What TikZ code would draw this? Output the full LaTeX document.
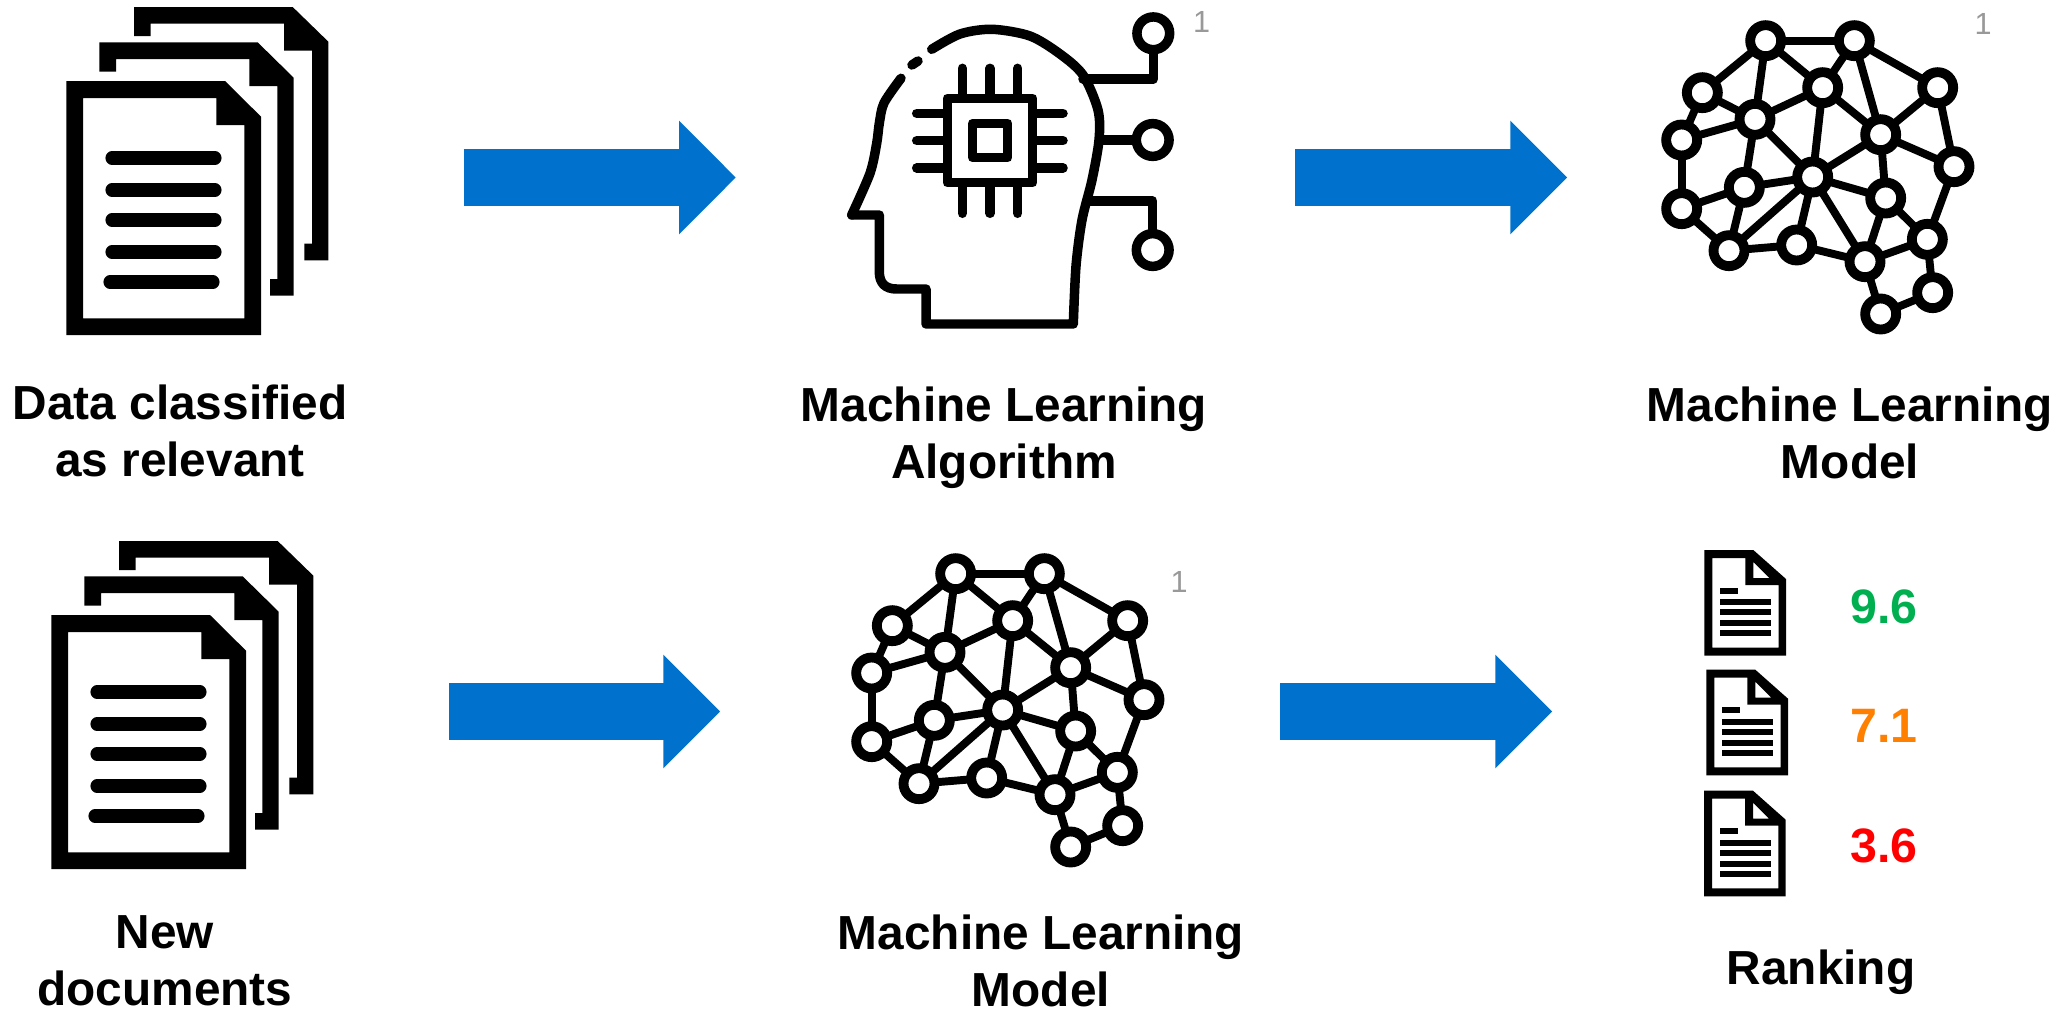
\documentclass[tikz,border=0pt]{standalone}
\usepackage{fontspec}
\setmainfont{Liberation Sans}
\usetikzlibrary{arrows.meta}
\definecolor{arrowblue}{HTML}{0072CE}
\definecolor{scoregreen}{HTML}{00B050}
\definecolor{scoreorange}{HTML}{FF8000}
\definecolor{scorered}{HTML}{FF0000}
\tikzset{
  x=0.02cm, y=-0.02cm,
  bigarrow/.style = {line width=1.14cm, arrowblue, -{Triangle[length=1.134cm, width=2.27cm, line width=1pt]}},
  caption/.style = {align=center, font=\fontsize{27.2pt}{32.7pt}\selectfont\bfseries, inner sep=0pt},
  score/.style = {font=\fontsize{27.5pt}{32pt}\selectfont\bfseries, inner sep=0pt},
  refmark/.style = {gray!80, font=\fontsize{17.4pt}{20pt}\selectfont, inner sep=0pt},
  brainnode/.style = {circle, draw=black, fill=white, line width=5.6pt, minimum size=0.62cm, inner sep=0pt},
  brainedge/.style = {black, line width=4.5pt},
  iconline/.style = {black, line width=5.4pt, line cap=round, line join=round},
  headnode/.style = {circle, draw=black, fill=white, line width=5.4pt, minimum size=0.655cm, inner sep=0pt},
  textline/.style = {black, line width=7.5pt, line cap=round},
  pics/docstack/.style = {code = {
    \fill (402/3,108/3) -- (402/3,21/3) -- (878/3,21/3) -- (985/3,125/3) -- (985/3,781/3) -- (913/3,781/3) -- (913/3,731/3)
      -- (936/3,731/3) -- (936/3,152/3) -- (852/3,152/3) -- (852/3,71/3) -- (452/3,71/3) -- (452/3,108/3) -- cycle;
    \fill (298/3,215/3) -- (298/3,127/3) -- (773/3,127/3) -- (881/3,233/3) -- (881/3,887/3) -- (810/3,887/3) -- (810/3,837/3)
      -- (832/3,837/3) -- (832/3,258/3) -- (748/3,258/3) -- (748/3,177/3) -- (348/3,177/3) -- (348/3,215/3) -- cycle;
    \fill[even odd rule] (199/3,243/3) -- (675/3,243/3) -- (783/3,350/3) -- (783/3,1005/3) -- (199/3,1005/3) -- cycle
      (249/3,294/3) -- (649/3,294/3) -- (649/3,375/3) -- (733/3,375/3) -- (733/3,955/3) -- (249/3,955/3) -- cycle;
    \draw[textline] (112,158) -- (215,158);
    \draw[textline] (112,190) -- (215,190);
    \draw[textline] (112,220) -- (215,220);
    \draw[textline] (112,252) -- (215,252);
    \draw[textline] (110,282) -- (213,282);
  }},
  pics/smalldoc/.style = {code = {
    \fill[even odd rule] (0,0) -- (49,0) -- (81.7,29) -- (81.7,105.7) -- (0,105.7) -- cycle
      (8,8) -- (41,8) -- (41,35) -- (74.3,35) -- (74.3,97.7) -- (8,97.7) -- cycle
      (49,12) -- (65,28) -- (49,28) -- cycle;
    \fill (15.7,37.7) rectangle (33.7,43.7);
    \foreach \liney in {52,62,73,83}
      \fill (15.7,\liney-3) rectangle (66.7,\liney+3);
  }},
  pics/brainicon/.style = {code = {
    \foreach \nodename/\nodex/\nodey in {n1/377/122, n2/643/122, n3/893/263, n4/548/263, n5/187/278,
        n6/345/358, n7/722/404, n8/125/420, n9/942/500, n10/518/531, n11/313/562, n12/737/594,
        n13/125/626, n14/862/718, n15/470/735, n16/267/752, n17/675/785, n18/878/878, n19/722/942}
      \coordinate (-\nodename) at ({\nodex/3},{\nodey/3});
    % edges first, the rings cover their ends
    \foreach \from/\to in {n1/n2, n1/n5, n1/n6, n1/n4, n2/n4, n2/n7, n2/n3, n3/n7, n3/n9, n4/n6, n4/n7,
        n4/n10, n5/n6, n5/n8, n6/n8, n6/n10, n6/n11, n7/n9, n7/n10, n7/n12, n8/n13, n9/n14, n10/n11,
        n10/n12, n10/n15, n10/n16, n10/n17, n11/n13, n11/n16, n12/n14, n12/n17, n13/n16, n14/n17,
        n14/n18, n15/n16, n15/n17, n17/n19, n18/n19}
      \draw[brainedge] (-\from) -- (-\to);
    \foreach \nodename in {n1,n2,n3,n4,n5,n6,n7,n8,n9,n10,n11,n12,n13,n14,n15,n16,n17,n18,n19}
      \node[brainnode] at (-\nodename) {};
  }}
}

\begin{document}
\begin{tikzpicture}
\useasboundingbox (0,0) rectangle (2072,1014);

% top row
\pic (docsTop) at (0,0) {docstack};
\coordinate (arrowOneA) at (463.5,177.5);
\coordinate (arrowOneB) at (735.7,177.5);
\draw[bigarrow] (arrowOneA) -- (arrowOneB);
\node[caption] (captionData) at (180,431) {Data classified\\as relevant};

% head with the chip
\draw[iconline] plot[smooth] coordinates {(931.7,49.3) (960,34) (992,29.3) (1030,36) (1060,54) (1083,75) (1098,110) (1099,140)
    (1092,180) (1082,220) (1076,266) (1073.3,324)}
  -- (926,324) -- (926,289) -- (896.7,289) .. controls (885,289) and (879.3,283) .. (879.3,271.7) -- (879.3,215) -- (851.7,215);
\draw[iconline] plot[smooth] coordinates {(851.7,215) (870,173.3) (876.7,143.3) (879.3,123.3) (884,103) (901,78.3)};
\draw[iconline] (912,65) -- (918,61);
\draw[iconline] (947.3,98.3) rectangle (1032.7,182.7);
\draw[iconline] (972.7,123.3) rectangle (1007.7,157.7);
\foreach \pinx in {962.3,990,1017.7} {
  \draw[iconline] (\pinx,68.3) -- (\pinx,95);
  \draw[iconline] (\pinx,186.7) -- (\pinx,213.3);
}
\foreach \piny in {113.3,140.7,168} {
  \draw[iconline] (916.7,\piny) -- (943,\piny);
  \draw[iconline] (1037,\piny) -- (1063,\piny);
}
\coordinate (startTop) at (1083,79);
\coordinate (startMid) at (1101.7,140);
\coordinate (startBot) at (1090,201);
\node[headnode] (outTop) at (1153.3,33.3) {};
\node[headnode] (outMid) at (1152.7,140) {};
\node[headnode] (outBot) at (1152.7,250) {};
\draw[iconline] (startTop) -| (outTop);
\draw[iconline] (startMid) -- (outMid);
\draw[iconline] (startBot) -| (outBot);
\node[refmark] (markHead) at (1201.5,22) {1};
\node[caption] (captionAlgo) at (1004,438) {Machine Learning\\Algorithm};

\coordinate (arrowTwoA) at (1295,177.5);
\coordinate (arrowTwoB) at (1567,177.5);
\draw[bigarrow] (arrowTwoA) -- (arrowTwoB);

\pic (brainTop) at (1640,0) {brainicon};
\node[refmark] (markBrainTop) at (1983,24) {1};
\node[caption] (captionModelTop) at (1850,433) {Machine Learning\\Model};

% bottom row
\pic (docsBot) at (-15,534) {docstack};
\coordinate (arrowThreeA) at (449,711.5);
\coordinate (arrowThreeB) at (720,711.5);
\draw[bigarrow] (arrowThreeA) -- (arrowThreeB);
\node[caption] (captionNew) at (165,961) {New\\documents};

\pic (brainBot) at (830,533) {brainicon};
\node[refmark] (markBrainBot) at (1179,582) {1};
\node[caption] (captionModelBot) at (1041,961) {Machine Learning\\Model};

\coordinate (arrowFourA) at (1280,711.5);
\coordinate (arrowFourB) at (1552,711.5);
\draw[bigarrow] (arrowFourA) -- (arrowFourB);

\pic (docOne) at (1704.3,550) {smalldoc};
\pic (docTwo) at (1706.3,669.7) {smalldoc};
\pic (docThree) at (1704,790.7) {smalldoc};
\node[score, scoregreen] (scoreOne) at (1884,607) {9.6};
\node[score, scoreorange] (scoreTwo) at (1884,726) {7.1};
\node[score, scorered] (scoreThree) at (1884,846) {3.6};
\node[caption] (captionRank) at (1821,972) {Ranking};
\end{tikzpicture}
\end{document}
